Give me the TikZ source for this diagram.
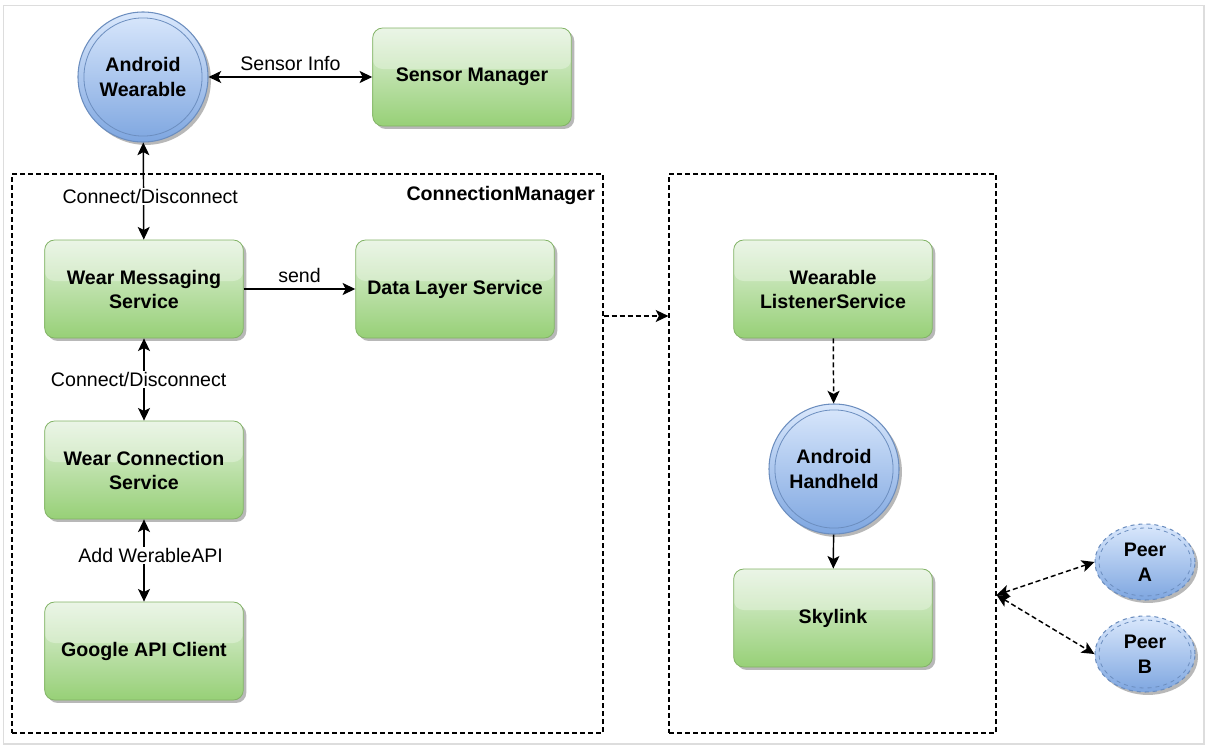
\documentclass[tikz,border=0pt]{standalone}
\usepackage{fontspec}
\setmainfont{Liberation Sans}
\usetikzlibrary{arrows.meta,shadows,shapes.geometric}

\definecolor{greentop}{HTML}{E2F1DC}
\definecolor{greenbot}{HTML}{97D077}
\definecolor{greenedge}{HTML}{82B366}
\definecolor{bluetop}{HTML}{DAE8FC}
\definecolor{bluebot}{HTML}{7EA6E0}
\definecolor{blueedge}{HTML}{6C8EBF}
\definecolor{framegray}{HTML}{DDDDDD}

\begin{document}
\begin{tikzpicture}[x=0.75pt,y=-0.75pt]
\tikzset{
	lbl/.style={font=\fontsize{14.7}{17}\selectfont},
	gbox/.style={rectangle, rounded corners=7.5pt, draw=greenedge, line width=0.6pt,
		top color=greentop, bottom color=greenbot,
		minimum width=149pt, minimum height=73.5pt, align=center,
		font=\fontsize{14.7}{18}\selectfont\bfseries,
		drop shadow={shadow xshift=2.2pt, shadow yshift=-2.2pt, fill=black, opacity=0.28},
		path picture={\fill[white, opacity=0.3] (path picture bounding box.north west) rectangle ([yshift=6pt]path picture bounding box.east);}},
	bcirc/.style={circle, draw=blueedge, line width=0.8pt,
		top color=bluetop, bottom color=bluebot,
		minimum size=97.5pt, inner sep=0pt, align=center,
		font=\fontsize{14.7}{19}\selectfont\bfseries,
		drop shadow={shadow xshift=2.2pt, shadow yshift=-2.2pt, fill=black, opacity=0.28},
		path picture={\draw[blueedge, line width=0.6pt] (path picture bounding box.center) circle[radius=44.3pt];}},
	peer/.style={ellipse, draw=blueedge, dashed, line width=0.8pt,
		top color=bluetop, bottom color=bluebot,
		minimum width=75pt, minimum height=57pt, inner sep=0pt, align=center,
		font=\fontsize{14.7}{19}\selectfont\bfseries,
		drop shadow={shadow xshift=2.2pt, shadow yshift=-2.2pt, fill=black, opacity=0.28},
		path picture={\draw[blueedge, dashed, line width=0.6pt] (path picture bounding box.center) ellipse[x radius=34.5pt, y radius=25.5pt];}},
	grp/.style={rectangle, draw=black, line width=0.9pt, dash pattern=on 3.75pt off 2.25pt,
		inner sep=0pt},
	link/.style={line width=1.1pt, -{Stealth[length=9.5pt, width=9pt, inset=2.3pt]}},
	duo/.style={line width=1.1pt, {Stealth[length=9.5pt, width=9pt, inset=2.3pt]}-{Stealth[length=9.5pt, width=9pt, inset=2.3pt]}},
	dlink/.style={link, dash pattern=on 3.75pt off 2.25pt},
	dduo/.style={duo, dash pattern=on 3.75pt off 2.25pt}
}

\useasboundingbox (0,0) rectangle (1210,746);
\draw[framegray, line width=1.2pt] (3.5,5.5) rectangle (1204,744);

% groups
\node[grp, minimum width=443.25pt, minimum height=419.25pt] (cm) at (307.5,453.5) {};
\node[grp, minimum width=245.25pt, minimum height=419.25pt] (hs) at (832.5,453.5) {};
\node[anchor=north east, font=\fontsize{14.7}{17}\selectfont\bfseries] (cm_t) at ([xshift=-3pt,yshift=-6.5pt]cm.north east) {ConnectionManager};

% wearable side
\node[bcirc] (wear) at (143,77) {Android\\Wearable};
\node[gbox] (sens) at (472,77) {Sensor Manager};
\node[gbox] (wms) at (144,289) {Wear Messaging\\Service};
\node[gbox] (dls) at (455,289) {Data Layer Service};
\node[gbox] (wcs) at (144,470) {Wear Connection\\Service};
\node[gbox] (gac) at (144,651) {Google API Client};

% handheld side
\node[gbox] (wls) at (833,289) {Wearable\\ListenerService};
\node[bcirc] (hand) at (834,469) {Android\\Handheld};
\node[gbox] (sky) at (833,618) {Skylink};

% peers
\node[peer] (pa) at (1145,562) {Peer\\A};
\node[peer] (pb) at (1145,654) {Peer\\B};

% connectors
\draw[duo] (wear) -- node[lbl, above, yshift=1pt] {Sensor Info} (sens);
\draw[duo] (wear) -- node[lbl, fill=white, inner sep=1pt, pos=0.56, xshift=5pt] {Connect/Disconnect} (wms);
\draw[link] (wms) -- node[lbl, above, yshift=1pt] {send} (dls);
\draw[duo] (wms) -- node[lbl, fill=white, inner sep=1pt, xshift=-4pt] {Connect/Disconnect} (wcs);
\draw[duo] (wcs) -- node[lbl, fill=white, inner sep=1pt, pos=0.44, xshift=5pt] {Add WerableAPI} (gac);

\coordinate (cm_out) at (cm.east |- 0,316);
\draw[dlink] (cm_out) -- (cm_out -| hs.west);
\draw[dlink] (wls) -- (hand);
\draw[link] (hand) -- (sky);

\coordinate (hub) at (hs.east |- 0,595);
\draw[dduo] (hub) -- (pa.west);
\draw[dduo] (hub) -- (pb.west);

\end{tikzpicture}
\end{document}
